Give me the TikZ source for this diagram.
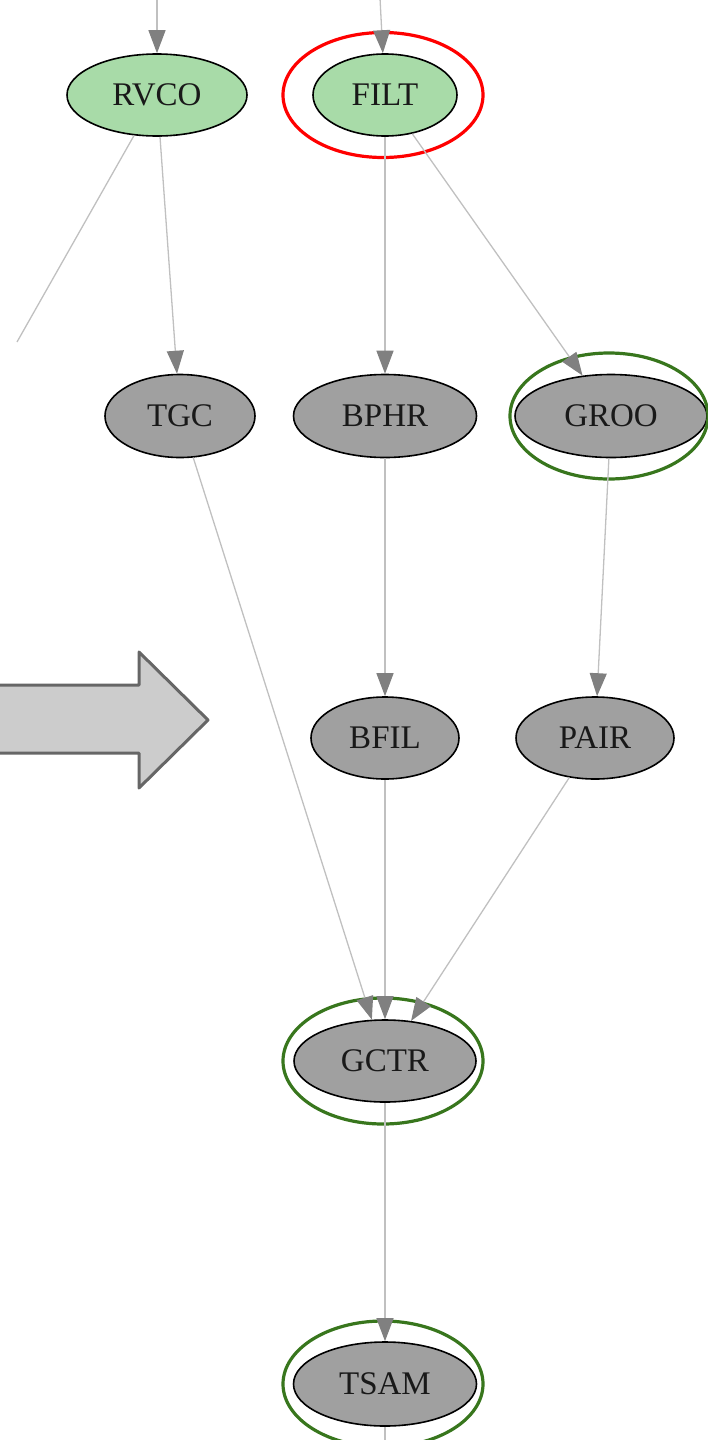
\documentclass[tikz,border=0pt]{standalone}
\usepackage{fontspec}
\setmainfont{Liberation Serif}
\usetikzlibrary{arrows.meta,shapes.geometric}
\definecolor{nodegreen}{HTML}{A8DBA8}
\definecolor{nodegray}{HTML}{A0A0A0}
\definecolor{edgegray}{HTML}{C0C0C0}
\definecolor{headgray}{HTML}{808080}
\definecolor{ringgreen}{HTML}{38761D}
\definecolor{ringred}{HTML}{FF0000}
\definecolor{bigfill}{HTML}{CCCCCC}
\definecolor{bigdraw}{HTML}{666666}
\tikzset{
  gnode/.style={ellipse, draw=black, line width=1.6pt, inner sep=0pt,
    font=\fontsize{33}{38}\selectfont, text=black!90},
  greennode/.style={gnode, fill=nodegreen},
  graynode/.style={gnode, fill=nodegray},
  ring/.style={ellipse, draw=#1, line width=3.2pt, inner sep=0pt,
    minimum width=200pt, minimum height=125pt},
  edge/.style={draw=edgegray, line width=1.3pt,
    -{Triangle[length=23pt,width=17pt,color=headgray,fill=headgray]}},
  plainedge/.style={draw=edgegray, line width=1.3pt},
  bigarrow/.style={draw=bigdraw, fill=bigfill, line width=3pt, line join=round}
}
\begin{document}
\begin{tikzpicture}[x=1pt,y=-1pt]
\useasboundingbox (0,0) rectangle (708,1440);
% big block arrow
\draw[bigarrow] (-5,685) -- (139,685) -- (139,652) -- (208,720) -- (139,788) -- (139,753) -- (-5,753) -- cycle;
% nodes
\node[greennode, minimum width=180pt, minimum height=82pt] (RVCO) at (157,95) {RVCO};
\node[greennode, minimum width=144pt, minimum height=82pt] (FILT) at (385,95) {FILT};
\node[graynode, minimum width=150pt, minimum height=83pt] (TGC) at (180,416) {TGC};
\node[graynode, minimum width=183pt, minimum height=83pt] (BPHR) at (385,416) {BPHR};
\node[graynode, minimum width=192pt, minimum height=83pt] (GROO) at (611,416) {GROO};
\node[graynode, minimum width=148pt, minimum height=82pt] (BFIL) at (385,738) {BFIL};
\node[graynode, minimum width=158pt, minimum height=82pt] (PAIR) at (595,738) {PAIR};
\node[graynode, minimum width=182pt, minimum height=82pt] (GCTR) at (385,1061) {GCTR};
\node[graynode, minimum width=183pt, minimum height=84pt] (TSAM) at (385,1384) {TSAM};
% rings
\node[ring=ringred] (filtring) at (383,95) {};
\node[ring=ringgreen, minimum width=198pt, minimum height=126pt] (grooring) at (609,416) {};
\node[ring=ringgreen, minimum height=126pt] (gctrring) at (383,1061) {};
\node[ring=ringgreen, minimum height=126pt] (tsamring) at (383,1384) {};
% free ends
\coordinate (rvcoin) at (157,-2);
\coordinate (filtin) at (380,-2);
\coordinate (rvcoout) at (17,342);
\coordinate (tsamout) at (385,1445);
% edges
\draw[edge] (rvcoin) -- (RVCO);
\draw[edge] (filtin) -- (FILT);
\draw[plainedge] (RVCO) -- (rvcoout);
\draw[edge] (RVCO) -- (TGC);
\draw[edge] (FILT) -- (BPHR);
\draw[edge] (FILT) -- (GROO);
\draw[edge] (TGC) -- (GCTR);
\draw[edge] (BPHR) -- (BFIL);
\draw[edge] (GROO) -- (PAIR);
\draw[edge] (BFIL) -- (GCTR);
\draw[edge] (PAIR) -- (GCTR);
\draw[edge] (GCTR) -- (TSAM);
\draw[plainedge] (TSAM) -- (tsamout);
\end{tikzpicture}
\end{document}
